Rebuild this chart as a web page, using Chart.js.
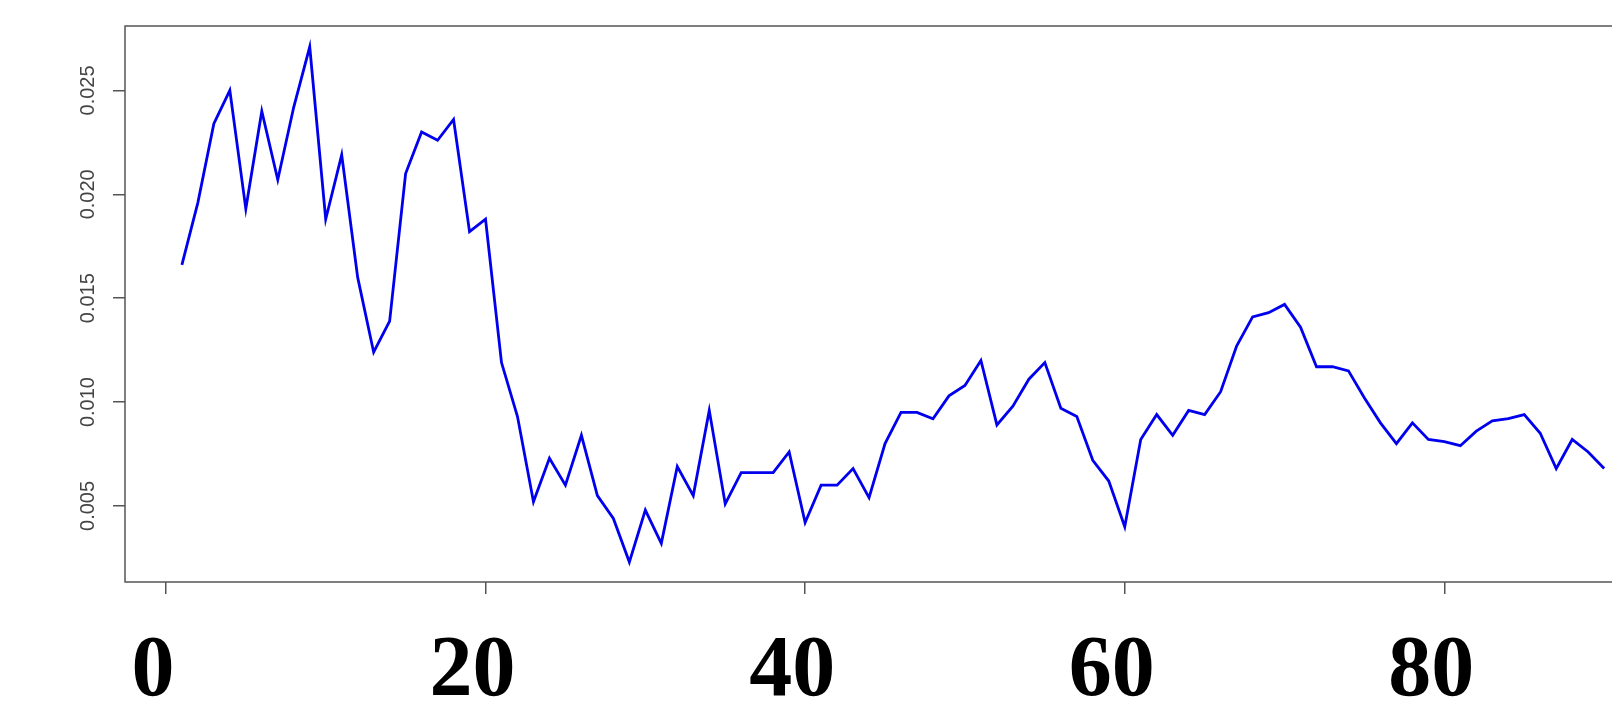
<!DOCTYPE html>
<html>
<head>
<meta charset="utf-8">
<script src="https://cdn.jsdelivr.net/npm/chart.js@4.4.1/dist/chart.umd.min.js"></script>
<style>
  html, body { margin: 0; padding: 0; background: #fff; overflow: hidden; }
  #wrap { width: 1612px; height: 712px; position: relative; }
</style>
</head>
<body>
<div id="wrap"><canvas id="chart"></canvas></div>
<script>
// values, index 1..90
const values = [
  0.0166, 0.0196, 0.0234, 0.0250, 0.0193, 0.0240, 0.0207, 0.0242, 0.0271, 0.0188,
  0.0219, 0.0160, 0.0124, 0.0139, 0.0210, 0.0230, 0.0226, 0.0236, 0.0182, 0.0188,
  0.0119, 0.0093, 0.0052, 0.0073, 0.0060, 0.0084, 0.0055, 0.0044, 0.0023, 0.0048,
  0.0032, 0.0069, 0.0055, 0.0096, 0.0051, 0.0066, 0.0066, 0.0066, 0.0076, 0.0042,
  0.0060, 0.0060, 0.0068, 0.0054, 0.0080, 0.0095, 0.0095, 0.0092, 0.0103, 0.0108,
  0.0120, 0.0089, 0.0098, 0.0111, 0.0119, 0.0097, 0.0093, 0.0072, 0.0062, 0.0040,
  0.0082, 0.0094, 0.0084, 0.0096, 0.0094, 0.0105, 0.0127, 0.0141, 0.0143, 0.0147,
  0.0136, 0.0117, 0.0117, 0.0115, 0.0102, 0.0090, 0.0080, 0.0090, 0.0082, 0.0081,
  0.0079, 0.0086, 0.0091, 0.0092, 0.0094, 0.0085, 0.0068, 0.0082, 0.0076, 0.0068
];
const xTicks = [0, 20, 40, 60, 80];
const yTicks = [0.005, 0.010, 0.015, 0.020, 0.025];
const yTickLabels = ['0.005', '0.010', '0.015', '0.020', '0.025'];

const points = values.map((v, i) => ({ x: i + 1, y: v }));

// box round the plot (right side runs off the page like the original)
const boxPlugin = {
  id: 'box',
  afterDraw(chart) {
    const ctx = chart.ctx;
    const a = chart.chartArea;
    ctx.save();
    ctx.strokeStyle = '#555';
    ctx.lineWidth = 1.5;
    ctx.beginPath();
    ctx.moveTo(a.right + 10, a.top);
    ctx.lineTo(a.left, a.top);
    ctx.lineTo(a.left, a.bottom);
    ctx.lineTo(a.right + 10, a.bottom);
    ctx.stroke();

    // rotated y labels
    const ys = chart.scales.y;
    ctx.fillStyle = '#444';
    ctx.font = '20px "Liberation Sans", Arial, sans-serif';
    ctx.textAlign = 'center';
    ctx.textBaseline = 'middle';
    yTicks.forEach((v, i) => {
      ctx.save();
      ctx.translate(a.left - 37, ys.getPixelForValue(v));
      ctx.rotate(-Math.PI / 2);
      ctx.fillText(yTickLabels[i], 0, 0);
      ctx.restore();
    });
    ctx.restore();
  }
};

new Chart(document.getElementById('chart'), {
  type: 'line',
  data: {
    datasets: [{
      data: points,
      borderColor: '#0000ee',
      borderWidth: 2.8,
      pointRadius: 0,
      tension: 0,
      fill: false
    }]
  },
  options: {
    responsive: true,
    maintainAspectRatio: false,
    animation: false,
    layout: { padding: { top: 26, right: 0, left: 0, bottom: 0 } },
    plugins: { legend: { display: false }, tooltip: { enabled: false } },
    scales: {
      x: {
        type: 'linear',
        min: -2.56,
        max: 90.49,
        afterBuildTicks: s => { s.ticks = xTicks.map(v => ({ value: v })); },
        afterFit: s => { s.height = 130; },
        border: { display: false },
        grid: { drawOnChartArea: false, drawTicks: true, tickLength: 12, color: '#555', lineWidth: 1.5 },
        ticks: {
          color: '#000',
          padding: 36,
          labelOffset: -13,
          maxRotation: 0,
          font: { family: '"Liberation Serif", "Times New Roman", serif', size: 86, weight: 'bold', lineHeight: 1 }
        }
      },
      y: {
        min: 0.00134,
        max: 0.0281,
        afterBuildTicks: s => { s.ticks = yTicks.map(v => ({ value: v })); },
        afterFit: s => { s.width = 125; },
        border: { display: false },
        grid: { drawOnChartArea: false, drawTicks: true, tickLength: 12, color: '#555', lineWidth: 1.5 },
        ticks: { display: false }
      }
    }
  },
  plugins: [boxPlugin]
});
</script>
</body>
</html>
